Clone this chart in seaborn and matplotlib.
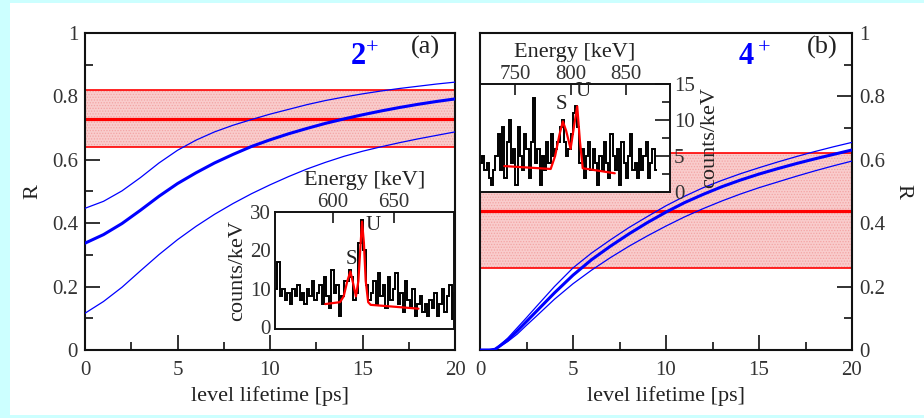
import numpy as np
import matplotlib
matplotlib.use("Agg")
import matplotlib.pyplot as plt
import seaborn as sns
from matplotlib.ticker import MultipleLocator, FixedLocator, FuncFormatter
from matplotlib.patches import Rectangle

# ---------------- data ----------------
# R(tau) curves for the 2+ level (central value and error limits)
tau2 = [0, 1, 2, 3, 4, 5, 6, 7, 8, 9, 10, 11, 12, 13, 14, 15, 16, 17, 18, 19, 20]
r2_mid = [0.337, 0.364, 0.399, 0.441, 0.485, 0.525, 0.559, 0.590, 0.617, 0.642, 0.663,
          0.682, 0.699, 0.715, 0.729, 0.742, 0.754, 0.765, 0.775, 0.784, 0.792]
r2_hi = [0.447, 0.469, 0.502, 0.544, 0.590, 0.630, 0.662, 0.688, 0.709, 0.727, 0.744,
         0.759, 0.774, 0.787, 0.798, 0.808, 0.817, 0.825, 0.832, 0.839, 0.845]
r2_lo = [0.116, 0.153, 0.198, 0.250, 0.301, 0.348, 0.390, 0.428, 0.462, 0.493, 0.521,
         0.547, 0.571, 0.592, 0.611, 0.627, 0.641, 0.654, 0.666, 0.677, 0.688]

# R(tau) curves for the 4+ level
tau4 = [0, 0.5, 0.8, 1, 1.5, 2, 2.5, 3, 4, 5, 6, 7, 8, 9, 10, 11, 12, 13, 14, 15, 16, 17, 18, 19, 20]
r4_mid = [0.0, 0.0, 0.002, 0.010, 0.032, 0.060, 0.090, 0.120, 0.180, 0.236, 0.285, 0.327, 0.366,
          0.402, 0.435, 0.465, 0.491, 0.515, 0.536, 0.555, 0.572, 0.588, 0.603, 0.617, 0.631]
r4_hi = [0.0, 0.0, 0.003, 0.012, 0.038, 0.070, 0.102, 0.135, 0.200, 0.259, 0.306, 0.347, 0.386,
         0.421, 0.455, 0.485, 0.512, 0.535, 0.556, 0.575, 0.593, 0.610, 0.626, 0.641, 0.655]
r4_lo = [0.0, 0.0, 0.001, 0.008, 0.027, 0.050, 0.078, 0.105, 0.160, 0.209, 0.252, 0.291, 0.327,
         0.360, 0.391, 0.420, 0.446, 0.470, 0.492, 0.512, 0.530, 0.548, 0.565, 0.581, 0.596]

# measured ratios: (lower, value, upper)
band2 = [0.64, 0.73, 0.82]
band4 = [0.26, 0.44, 0.62]

# gamma spectrum gated for the 2+ decay (2 keV bins)
spec2_edges = list(range(553, 703, 2))
spec2_counts = [10, 17, 8, 10, 7, 9, 6, 10, 8, 11, 7,
                9, 6, 10, 8, 12, 7, 9, 11, 6, 13, 8,
                5, 15, 9, 11, 3, 8, 12,
                12, 15, 13, 7, 9, 22, 28, 20, 11, 7,
                9, 12, 6, 14, 8, 11, 5, 13, 7, 10, 14, 6, 9, 4, 12, 7, 5, 10, 3, 6,
                8, 4, 6, 3, 7, 5, 9, 3, 6, 10, 4, 8, 11, 2, 9]
fit2_e = [594, 606, 609, 612, 614.5, 617, 619, 621, 622.5, 624, 625.5, 627, 629, 631, 670]
fit2_c = [6.0, 6.5, 8.0, 12.0, 14.5, 11.0, 8.0, 12.0, 20.0, 27.5, 22.0, 12.0, 6.5, 5.8, 4.8]

# gamma spectrum gated for the 4+ decay
spec4_edges = list(range(718, 880, 2))
spec4_counts = [4, 5, 3, 4, 2, 1, 3, 5, 8, 3, 9,
                2, 7, 10, 4, 6, 1, 9, 5, 3, 8, 6,
                2, 7, 13, 4, 6, 1, 5, 3, 7, 4, 8,
                5, 6, 7, 9, 10, 7, 5, 6,
                8, 11, 12, 9, 4, 6,
                2, 5, 7, 3, 6, 4, 1, 5, 3, 7, 4, 2, 8, 5, 3, 6, 1, 7, 4, 2, 5, 8,
                3, 4, 2, 6, 3, 5, 7, 2, 4, 6, 3]
fit4_e = [740, 782, 786, 790, 793, 796, 800, 803, 806, 808.5, 811, 840]
fit4_c = [3.6, 3.2, 5.0, 8.0, 9.8, 8.5, 6.0, 9.0, 11.9, 7.0, 3.3, 2.6]

# ---------------- style ----------------
sns.set_theme(style="white")
plt.rcParams["font.family"] = ["Liberation Serif", "DejaVu Serif"]
plt.rcParams["hatch.linewidth"] = 0.6

BLUE = "#0000ff"
RED = "#ff0000"
W, H = 924, 418

fig = plt.figure(figsize=(W / 100, H / 100), dpi=100, facecolor="#ccffff")
fig.patches.append(Rectangle((10 / W, 3 / H), 1 - 10 / W, (415 - 3) / H,
                             transform=fig.transFigure, facecolor="white",
                             edgecolor="none", zorder=-10))


def fbox(x0, y0, x1, y1):
    return [x0 / W, (H - y1) / H, (x1 - x0) / W, (y1 - y0) / H]


fmt_r = FuncFormatter(lambda v, p: "%g" % round(v, 2))


def main_panel(rect, band, tau, curves, right=False):
    ax = fig.add_axes(rect)
    ax.set_xlim(0, 20)
    ax.set_ylim(0, 1)
    lo, mid, hi = band
    ax.axhspan(lo, hi, facecolor="#f9cccc", edgecolor="#f3a4a4", hatch="......",
               linewidth=0, zorder=1)
    for v, lw in ((lo, 1.2), (mid, 2.3), (hi, 1.2)):
        ax.axhline(v, color=RED, lw=lw, zorder=2)
    for vals, lw in zip(curves, (2.2, 0.9, 0.9)):
        sns.lineplot(x=tau, y=vals, ax=ax, color=BLUE, lw=lw, zorder=3)
    ax.xaxis.set_major_locator(MultipleLocator(5))
    ax.xaxis.set_minor_locator(MultipleLocator(2.5))
    ax.yaxis.set_major_locator(MultipleLocator(0.2))
    ax.yaxis.set_minor_locator(MultipleLocator(0.1))
    ax.yaxis.set_major_formatter(fmt_r)
    ax.tick_params(which="both", direction="in", width=1.3, colors="#222222",
                   labelsize=15, labelcolor="#333333", pad=5)
    ax.tick_params(axis="x", which="both", pad=8)
    ax.tick_params(which="major", length=11)
    ax.tick_params(which="minor", length=6)
    ax.tick_params(axis="x", which="both", top=False, bottom=True)
    if right:
        ax.tick_params(axis="y", which="both", left=False, right=True,
                       labelleft=False, labelright=True)
        ax.yaxis.set_label_position("right")
        ax.set_ylabel("R", fontsize=16, rotation=270, labelpad=20, color="#222222")
    else:
        ax.tick_params(axis="y", which="both", left=True, right=False)
        ax.set_ylabel("R", fontsize=16, labelpad=7, color="#222222")
    ax.set_xlabel("level lifetime [ps]", fontsize=16, labelpad=4, color="#222222")
    for s in ax.spines.values():
        s.set_linewidth(1.5)
        s.set_color("#111111")
    return ax


axa = main_panel(fbox(85, 33, 455, 350), band2, tau2, (r2_mid, r2_hi, r2_lo))
axb = main_panel(fbox(480, 33, 852, 350), band4, tau4, (r4_mid, r4_hi, r4_lo), right=True)

# level labels
axa.text(14.8, 0.925, "2", color=BLUE, fontsize=22, fontweight="bold", ha="center", va="center")
axa.text(15.55, 0.95, "+", color=BLUE, fontsize=16, ha="center", va="center")
axa.text(18.4, 0.955, "(a)", color="#222222", fontsize=19, ha="center", va="center")
axb.text(14.3, 0.925, "4", color=BLUE, fontsize=22, fontweight="bold", ha="center", va="center")
axb.text(15.3, 0.95, "+", color=BLUE, fontsize=16, ha="center", va="center")
axb.text(18.4, 0.955, "(b)", color="#222222", fontsize=19, ha="center", va="center")


def inset(rect, edges, counts, fit_e, fit_c, xlim, ylim, xticks, yright=False):
    ax = fig.add_axes(rect, zorder=5)
    ax.set_facecolor("white")
    ax.stairs(counts, edges, color="black", lw=1.4, baseline=None)
    sns.lineplot(x=fit_e, y=fit_c, ax=ax, color=RED, lw=1.6, sort=False)
    ax.set_xlim(*xlim)
    ax.set_ylim(*ylim)
    ax.xaxis.set_major_locator(FixedLocator(xticks))
    ax.xaxis.tick_top()
    ax.xaxis.set_label_position("top")
    ax.set_xlabel("Energy [keV]", fontsize=16, labelpad=6, color="#222222")
    ax.tick_params(axis="x", which="both", direction="in", length=8, width=1.3,
                   labelsize=15, labelcolor="#333333", pad=0, top=True, bottom=False)
    ax.tick_params(axis="y", which="both", direction="in", width=1.3,
                   labelsize=15, labelcolor="#333333", pad=3)
    ax.tick_params(axis="y", which="major", length=11)
    ax.tick_params(axis="y", which="minor", length=6)
    if yright:
        ax.yaxis.tick_right()
        ax.yaxis.set_label_position("right")
        ax.set_ylabel("counts/keV", fontsize=16, rotation=90, labelpad=4, color="#222222")
    else:
        ax.set_ylabel("counts/keV", fontsize=16, labelpad=2, color="#222222")
    for s in ax.spines.values():
        s.set_linewidth(1.4)
        s.set_color("#111111")
    return ax


ia = inset(fbox(275, 212, 454, 329), spec2_edges, spec2_counts, fit2_e, fit2_c,
           (553, 699), (-0.5, 30), [600, 650])
ia.yaxis.set_major_locator(MultipleLocator(10))
ia.yaxis.set_minor_locator(MultipleLocator(5))
ia.text(615.5, 17.5, "S", fontsize=15, color="#222222", ha="center", va="center")
ia.text(633, 26.5, "U", fontsize=15, color="#222222", ha="center", va="center")

ib = inset(fbox(480, 84, 670, 192), spec4_edges, spec4_counts, fit4_e, fit4_c,
           (718, 890), (0, 15), [750, 800, 850], yright=True)
ib.yaxis.set_major_locator(MultipleLocator(5))
ib.yaxis.set_minor_locator(MultipleLocator(2.5))
ib.text(792, 12.2, "S", fontsize=15, color="#222222", ha="center", va="center")
ib.text(811, 14.0, "U", fontsize=15, color="#222222", ha="center", va="center")

fig.savefig("out.png", dpi=100, facecolor=fig.get_facecolor())
